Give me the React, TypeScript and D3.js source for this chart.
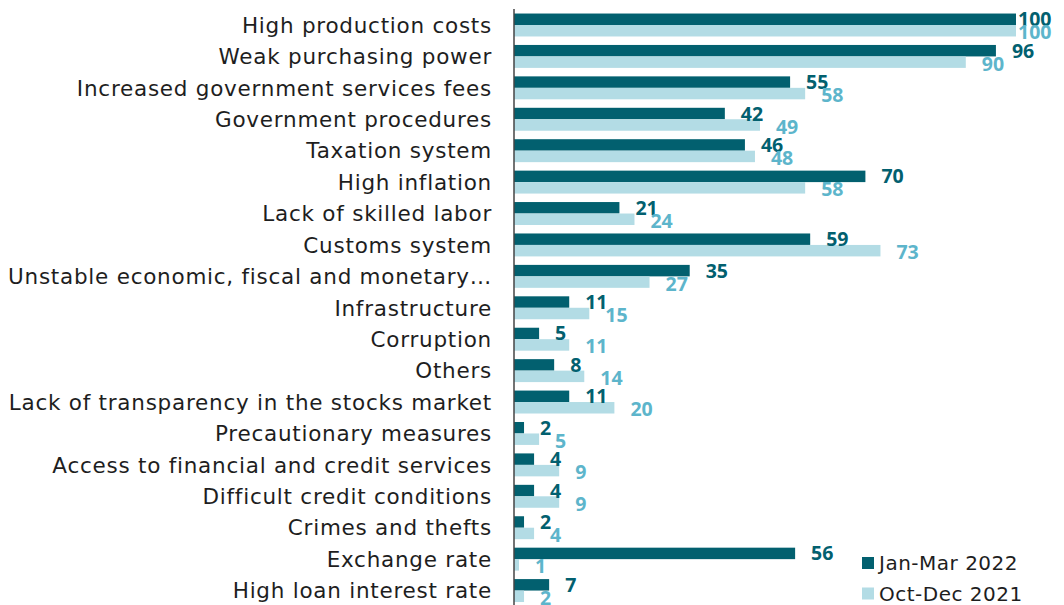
import React from "react";
import * as d3 from "d3";

const categories = [
  "High production costs",
  "Weak purchasing power",
  "Increased government services fees",
  "Government procedures",
  "Taxation system",
  "High inflation",
  "Lack of skilled labor",
  "Customs system",
  "Unstable economic, fiscal and monetary…",
  "Infrastructure",
  "Corruption",
  "Others",
  "Lack of transparency in the stocks market",
  "Precautionary measures",
  "Access to financial and credit services",
  "Difficult credit conditions",
  "Crimes and thefts",
  "Exchange rate",
  "High loan interest rate",
];
const janMar2022 = [100, 96, 55, 42, 46, 70, 21, 59, 35, 11, 5, 8, 11, 2, 4, 4, 2, 56, 7];
const octDec2021 = [100, 90, 58, 49, 48, 58, 24, 73, 27, 15, 11, 14, 20, 5, 9, 9, 4, 1, 2];
const seriesNames = ["Jan-Mar 2022", "Oct-Dec 2021"];

const W = 1064;
const H = 605;
const DARK = "#02606F";
const LIGHT = "#B3DCE5";
const LIGHT_LABEL = "#5DB5CB";
const TEXT = "#1E1E1E";
const FONT = "'DejaVu Sans', sans-serif";
const LABEL_FONT = "'Open Sans', sans-serif";

export default function App() {
  const x = d3.scaleLinear().domain([0, 100]).range([514, 1016]);
  const step = 31.42;
  const y0 = 25 - step / 2;
  const y = d3
    .scaleBand<string>()
    .domain(categories)
    .range([y0, y0 + step * categories.length])
    .paddingInner(0.27)
    .paddingOuter(0.135);
  const inner = d3
    .scaleBand<string>()
    .domain(seriesNames)
    .range([0, y.bandwidth()]);

  const series = [
    { name: seriesNames[0], values: janMar2022, color: DARK, labelColor: DARK, dy: 0 },
    { name: seriesNames[1], values: octDec2021, color: LIGHT, labelColor: LIGHT_LABEL, dy: 1.5 },
  ];

  return (
    <svg
      width={W}
      height={H}
      style={{ position: "absolute", left: 0, top: 0, background: "#fff" }}
      fontFamily={FONT}
    >
      {series.map((s) =>
        categories.map((c, i) => {
          const by = (y(c) as number) + (inner(s.name) as number);
          const bh = inner.bandwidth();
          const xe = x(s.values[i]);
          return (
            <rect key={s.name + c} x={x(0)} y={by} width={xe - x(0)} height={bh} fill={s.color} />
          );
        })
      )}
      {series.map((s) =>
        categories.map((c, i) => {
          const by = (y(c) as number) + (inner(s.name) as number);
          const bh = inner.bandwidth();
          const xe = x(s.values[i]);
          const lx = Math.min(xe + 16, x(100) + 2);
          return (
            <text
              key={"l" + s.name + c}
              x={lx}
              y={by + bh / 2 + s.dy}
              dy="0.36em"
              fontFamily={LABEL_FONT}
              fontSize={19.5}
              fontWeight={700}
              fill={s.labelColor}
            >
              {s.values[i]}
            </text>
          );
        })
      )}
      <line x1={x(0)} x2={x(0)} y1={9} y2={H} stroke="#444" strokeWidth={1.5} />
      {categories.map((c) => (
        <text
          key={"c" + c}
          x={492}
          y={(y(c) as number) + y.bandwidth() / 2}
          dy="0.36em"
          textAnchor="end"
          fontSize={21.5}
          letterSpacing={0.75}
          fill={TEXT}
        >
          {c}
        </text>
      ))}
      {series.map((s, k) => (
        <g key={"lg" + s.name} transform={`translate(862, ${557 + k * 30.5})`}>
          <rect x={0} y={0} width={12} height={12} fill={s.color} />
          <text x={17} y={6} dy="0.36em" fontSize={20} letterSpacing={0.5} fill={TEXT}>
            {s.name}
          </text>
        </g>
      ))}
    </svg>
  );
}
